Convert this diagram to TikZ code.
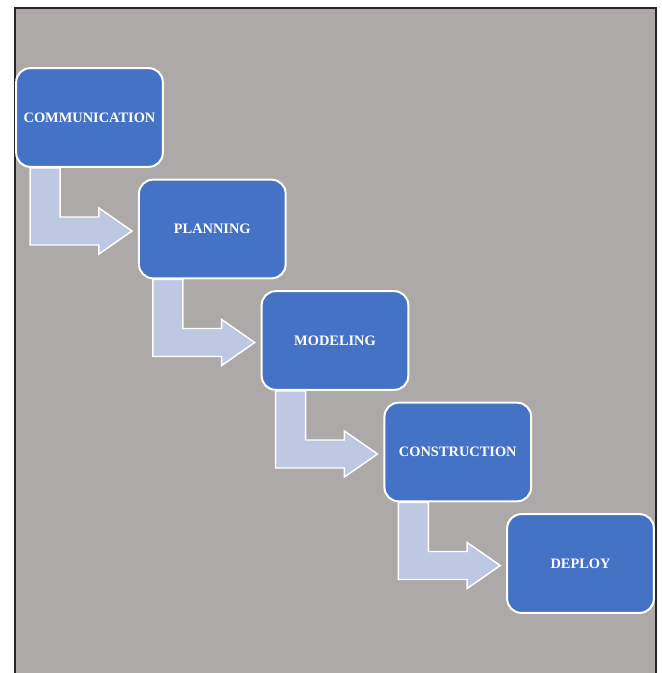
\documentclass[tikz,border=0pt]{standalone}
\usepackage{fontspec}
\setmainfont{Liberation Serif}
\usepackage{xcolor}
\usetikzlibrary{calc,positioning}

\definecolor{backgray}{RGB}{173,169,168}
\definecolor{stageblue}{RGB}{68,114,196}
\definecolor{flowblue}{RGB}{191,200,227}

\pgfdeclarelayer{background}
\pgfsetlayers{background,main}

\tikzset{
  stagebox/.style={rectangle, rounded corners=10.5pt, draw=white, line width=1.5pt,
    fill=stageblue, text=white, inner sep=0pt,
    minimum width=110pt, minimum height=74pt,
    font=\fontsize{10.8}{12}\selectfont\bfseries},
  flowarrow/.style={draw=white, line width=1.1pt, fill=flowblue, line join=miter}
}

\begin{document}
\begin{tikzpicture}[x=0.75pt,y=0.75pt,yscale=-1,xscale=1]
  \useasboundingbox (0,0) rectangle (661,673);

    % Stage Nodes
    \node [stagebox] (comm)   at (89.5,117.5) {COMMUNICATION};
    \node [stagebox] (plan)   at (212.3,229)  {PLANNING};
    \node [stagebox] (model)  at (335,340.5)  {MODELING};
    \node [stagebox] (cons)   at (457.8,452)  {CONSTRUCTION};
    \node [stagebox] (deploy) at (580.5,563.5) {DEPLOY};

    \begin{pgfonlayer}{background}
    %Shape: Rectangle [background]
    \fill [backgray] (15,8) rectangle (656,673);
    \draw [line width=1.1pt, color=black!85] (15,673) -- (15,8) -- (656,8) -- (656,673);

    %Shape: Bent Arrows
    \foreach \a/\b in {comm/plan, plan/model, model/cons, cons/deploy}{
      \coordinate (sl) at ($(\a.south west)+(15,0)$);
      \coordinate (sr) at ($(\a.south west)+(45,0)$);
      \coordinate (tip) at ($(\b.west)+(-6,2)$);
      \coordinate (bt) at ($(\b.west)+(-39,-12)$);
      \coordinate (bb) at ($(\b.west)+(-39,16)$);
      \coordinate (ht) at ($(\b.west)+(-39,-21)$);
      \coordinate (hb) at ($(\b.west)+(-39,25)$);
      \draw [flowarrow] (sl) -- (sr) -- (sr |- bt) -- (bt) -- (ht) -- (tip)
        -- (hb) -- (bb) -- (sl |- bb) -- cycle;
    }
    \end{pgfonlayer}

\end{tikzpicture}
\end{document}
